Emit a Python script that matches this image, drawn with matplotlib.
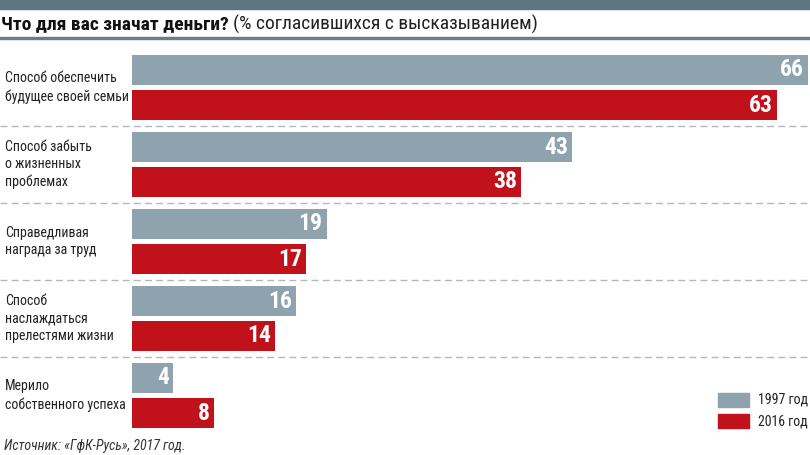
import numpy as np
import matplotlib.pyplot as plt
from matplotlib.patches import Rectangle

## данные
categories = ['Способ обеспечить\nбудущее своей семьи',
              'Способ забыть\nо жизненных\nпроблемах',
              'Справедливая\nнаграда за труд',
              'Способ\nнаслаждаться\nпрелестями жизни',
              'Мерило\nсобственного успеха']
values_1997 = [66, 43, 19, 16, 4]
values_2016 = [63, 38, 17, 14, 8]
series_names = ['1997 год', '2016 год']

GRAY = '#8fa3ae'
RED = '#c1121c'
W, H = 810, 455
NARROW = ['Roboto Condensed', 'DejaVu Sans']

fig = plt.figure(figsize=(W / 100, H / 100), dpi=100)

def px(x, y):
    # pixels depuis le coin haut gauche -> coordonnées figure
    return x / W, 1 - y / H

# bandeau du haut + ligne sous le titre
fig.patches.append(Rectangle((0, 1 - 9 / H), 1, 9 / H, transform=fig.transFigure,
                             color='#5e7483', zorder=0))
fig.patches.append(Rectangle((0, 1 - 39 / H), 1, 2 / H, transform=fig.transFigure,
                             color='#6b7d89', zorder=0))

t = fig.text(*px(1, 24), 'Что для вас значат деньги?', family=NARROW, weight='bold',
             fontsize=14, va='center', ha='left', color='#111111')
fig.canvas.draw()
bb = t.get_window_extent()
fig.text(bb.x1 / W + 4 / W, 1 - 24 / H, '(% согласившихся с высказыванием)', family=NARROW,
         fontsize=14, va='center', ha='left', color='#222222')

## axes
scale = (808 - 132) / 66.0
ax = fig.add_axes([0, 1 - 432 / H, 1, (432 - 50) / H])
ax.set_xlim(-132 / scale, (W - 132) / scale)
top = -(87.5 - 50) / 77
bottom = (432 - 87.5) / 77
ax.set_ylim(bottom, top)
ax.axis('off')

pos = np.arange(len(categories))
off = 17.5 / 77
h = 30 / 77
ax.barh(pos - off, values_1997, height=h, color=GRAY, left=0)
ax.barh(pos + off, values_2016, height=h, color=RED, left=0)

for i in range(len(categories)):
    ax.text(values_1997[i] - 4 / scale, pos[i] - off, str(values_1997[i]), ha='right', va='center',
            color='white', fontsize=17, weight='bold', family=NARROW)
    ax.text(values_2016[i] - 4 / scale, pos[i] + off, str(values_2016[i]), ha='right', va='center',
            color='white', fontsize=17, weight='bold', family=NARROW)
    ax.text(-127 / scale, pos[i], categories[i], ha='left', va='center', fontsize=10,
            family=NARROW, color='#222222', linespacing=1.32)
    if i < len(categories) - 1:
        ax.axhline(pos[i] + 0.5, color='#b0b8bd', lw=1, ls=(0, (5, 3)))

# légende
for k, (name, col) in enumerate(zip(series_names, [GRAY, RED])):
    y0 = 393 + k * 21
    fig.patches.append(Rectangle(px(718, y0 + 14), 31 / W, 14 / H, transform=fig.transFigure,
                                 color=col))
    fig.text(*px(758, y0 + 7), name, family=NARROW, fontsize=10, va='center', ha='left',
             color='#222222')

fig.text(*px(4, 446), 'Источник: «ГфК-Русь», 2017 год.', family=NARROW, style='italic',
         fontsize=10, va='center', ha='left', color='#333333')

fig.savefig('out.png', dpi=100)
